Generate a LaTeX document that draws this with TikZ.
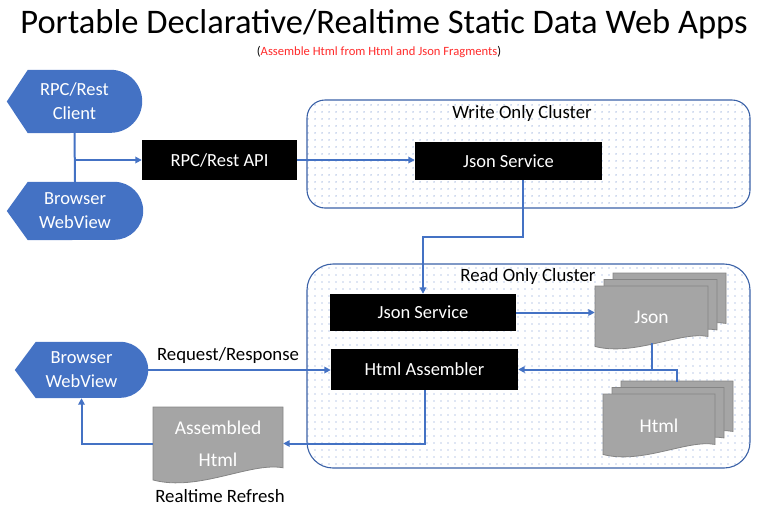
\documentclass[tikz,border=0pt]{standalone}
\usepackage{fontspec}
\setmainfont{Carlito}
\usetikzlibrary{arrows.meta,patterns.meta,backgrounds}
\definecolor{dispblue}{HTML}{4472C4}
\definecolor{linkblue}{HTML}{4472C4}
\definecolor{dotblue}{HTML}{7393D0}
\definecolor{docgray}{HTML}{A5A5A5}
\definecolor{docedge}{HTML}{858585}
\definecolor{subred}{HTML}{FF2A2A}
\tikzdeclarepattern{
    name=clusterdots,
    type=uncolored,
    bottom left={(0pt,0pt)},
    top right={(6.5pt,6.5pt)},
    tile size={(6.5pt,6.5pt)},
    code={\fill (3.25pt,3.25pt) circle (0.75pt);}
}
\tikzset{
    link/.style={draw=linkblue, line width=2pt},
    arr/.style={link, -{Triangle[length=6.5pt,width=6.5pt]}},
    cluster/.style={draw=linkblue!85!black, line width=1.1pt, pattern=clusterdots, pattern color=dotblue},
    blackbox/.style={fill=black, text=white, font=\fontsize{18.5}{22}\selectfont, inner sep=0pt},
    disp/.style={text=white, align=center, font=\fontsize{18.5}{24}\selectfont, inner sep=0pt},
    doctext/.style={text=white, align=center, font=\fontsize{19.5}{32}\selectfont, inner sep=0pt},
    docshape/.style={fill=docgray, draw=docedge, line width=0.8pt},
    plain/.style={font=\fontsize{18.8}{22}\selectfont}
}
% document with a wavy bottom: x, y, width, height
\newcommand\docshape[4]{%
    \draw[docshape] ({#1},{#2}) -- ({#1+#3},{#2}) -- ({#1+#3},{#2+0.8*#4})
        .. controls ({#1+0.75*#3},{#2+0.72*#4}) and ({#1+0.35*#3},{#2+1.12*#4}) .. ({#1},{#2+0.96*#4}) -- cycle;}
% pointed left, round right, behind a node: node, radius
\newcommand\dispbg[2]{%
    \begin{scope}[on background layer]
    \fill[dispblue] (#1.west) -- ([xshift=21pt]#1.north west) -- ([xshift=-#2pt]#1.north east)
        arc[start angle=-90, end angle=90, radius=#2] -- ([xshift=21pt]#1.south west) -- cycle;
    \end{scope}}

\begin{document}
\begin{tikzpicture}[x=1pt,y=-1pt]
\useasboundingbox (0,0) rectangle (768,512);
\node[font=\fontsize{34.5}{40}\selectfont] (title) at (384,24) {Portable Declarative/Realtime Static Data Web Apps};
\node[font=\fontsize{12.6}{15}\selectfont] (subtitle) at (379,52) {(\textcolor{subred}{Assemble Html from Html and Json Fragments})};

% clusters
\draw[cluster, rounded corners=18pt] (307,100) rectangle (750,208);
\draw[cluster, rounded corners=26pt] (307,264) rectangle (750,468);
\node[plain] (wlabel) at (522,113) {Write Only Cluster};
\node[plain] (rlabel) at (528,276) {Read Only Cluster};

% clients
\node[disp, minimum width=135pt, minimum height=63pt] (rpcclient) at (74.5,101.5) {RPC/Rest\\Client};
\dispbg{rpcclient}{31.5}
\node[disp, minimum width=136pt, minimum height=58pt] (browser) at (75,211) {Browser\\WebView};
\dispbg{browser}{29}
\node[disp, minimum width=133pt, minimum height=56pt] (viewer) at (81.5,370) {Browser\\WebView};
\dispbg{viewer}{28}

% services
\node[blackbox, minimum width=155pt, minimum height=40pt] (rpcapi) at (219.5,160) {RPC/Rest API};
\node[blackbox, minimum width=187pt, minimum height=38pt] (wjson) at (508.5,161) {Json Service};
\node[blackbox, minimum width=186pt, minimum height=37pt] (rjson) at (423,312.5) {Json Service};
\node[blackbox, minimum width=187pt, minimum height=41pt] (assembler) at (424.5,369.5) {Html Assembler};

% fragments
\foreach \dx/\dy in {18/13, 9/6.5, 0/0} {
    \docshape{595+\dx}{286-\dy}{113}{63}
    \docshape{603+\dx}{394-\dy}{112}{63}
}
\docshape{153}{407}{130}{76}
\node[doctext, minimum width=113pt, minimum height=63pt] (jsondoc) at (651.5,317.5) {Json};
\node[doctext, minimum width=112pt, minimum height=63pt] (htmldoc) at (659,425.5) {Html};
\node[doctext, minimum width=130pt, minimum height=73pt] (asmdoc) at (218,443.5) {Assembled\\Html};
\coordinate (htmlback) at (677,382);

% links
\draw[link] (rpcclient.south) -- (browser.north);
\coordinate (split) at (rpcclient.south |- rpcapi.west);
\draw[arr] (split) -- (rpcapi.west);
\draw[arr] (rpcapi.east) -- (rpcapi.east -| wjson.west);
\draw[arr] ([xshift=14.5pt]wjson.south) -- ++(0,57) -| (rjson.north);
\draw[arr] (rjson.east) -- (rjson.east -| jsondoc.west);
\draw[link] ([yshift=6pt]jsondoc.south) -- (jsondoc.south |- assembler.east);
\draw[arr] (htmlback) |- (assembler.east);
\draw[arr] (assembler.south) |- (asmdoc.east);
\draw[arr] (asmdoc.west) -| (viewer.south);
\draw[arr] (viewer.east) -- (viewer.east -| assembler.west);
\node[plain] (reqlabel) at (228,355) {Request/Response};
\node[plain] (refresh) at (220,496) {Realtime Refresh};
\end{tikzpicture}
\end{document}
